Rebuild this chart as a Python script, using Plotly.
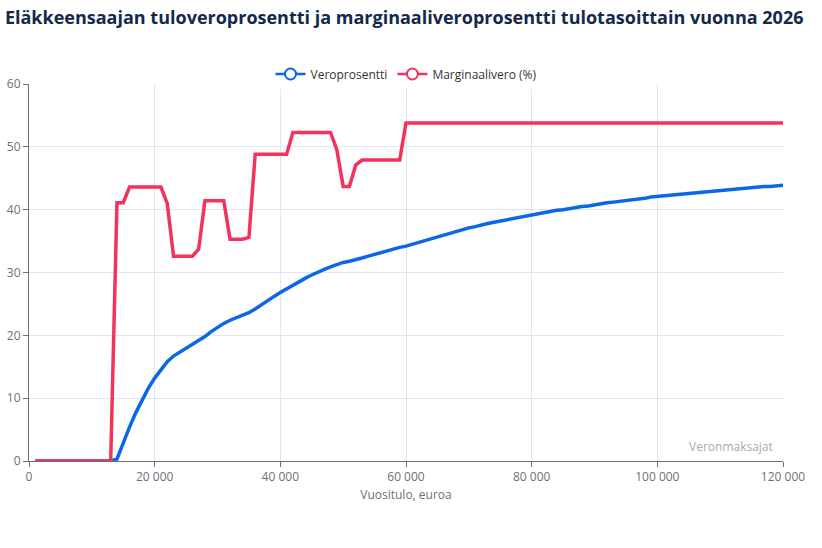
import plotly.graph_objects as go

# Vuositulo, euroa (1 000 - 120 000)
tulot = list(range(1000, 121000, 1000))

veroprosentti = [
    0, 0, 0, 0, 0, 0, 0, 0, 0, 0,
    0, 0, 0, 0.3, 3.0, 5.4, 7.7, 9.8, 11.6, 13.2,
    14.6, 15.8, 16.7, 17.3, 17.9, 18.5, 19.1, 19.8, 20.6, 21.3,
    21.9, 22.4, 22.8, 23.2, 23.6, 24.2, 24.9, 25.6, 26.2, 26.8,
    27.4, 28.0, 28.6, 29.1, 29.6, 30.1, 30.5, 30.9, 31.3, 31.6,
    31.8, 32.0, 32.3, 32.6, 32.9, 33.1, 33.4, 33.7, 34.0, 34.2,
    34.5, 34.8, 35.1, 35.4, 35.7, 36.0, 36.3, 36.5, 36.8, 37.1,
    37.3, 37.6, 37.8, 38.0, 38.2, 38.4, 38.6, 38.8, 39.0, 39.2,
    39.4, 39.5, 39.7, 39.9, 40.0, 40.2, 40.3, 40.5, 40.6, 40.8,
    40.9, 41.1, 41.2, 41.3, 41.5, 41.6, 41.7, 41.8, 42.0, 42.1,
    42.2, 42.3, 42.4, 42.5, 42.6, 42.7, 42.8, 42.9, 43.0, 43.1,
    43.2, 43.3, 43.3, 43.4, 43.5, 43.6, 43.7, 43.7, 43.8, 43.9,
]

marginaalivero = [
    0, 0, 0, 0, 0, 0, 0, 0, 0, 0,
    0, 0, 0, 41.1, 41.1, 43.6, 43.6, 43.6, 43.6, 43.6,
    43.6, 41.0, 32.6, 32.6, 32.6, 32.6, 33.7, 41.4, 41.4, 41.4,
    41.4, 35.3, 35.3, 35.3, 35.6, 48.8, 48.8, 48.8, 48.8, 48.8,
    48.8, 52.3, 52.3, 52.3, 52.3, 52.3, 52.3, 52.3, 49.5, 43.7,
    43.7, 47.1, 47.9, 47.9, 47.9, 47.9, 47.9, 47.9, 47.9, 53.8,
    53.8, 53.8, 53.8, 53.8, 53.8, 53.8, 53.8, 53.8, 53.8, 53.8,
    53.8, 53.8, 53.8, 53.8, 53.8, 53.8, 53.8, 53.8, 53.8, 53.8,
    53.8, 53.8, 53.8, 53.8, 53.8, 53.8, 53.8, 53.8, 53.8, 53.8,
    53.8, 53.8, 53.8, 53.8, 53.8, 53.8, 53.8, 53.8, 53.8, 53.8,
    53.8, 53.8, 53.8, 53.8, 53.8, 53.8, 53.8, 53.8, 53.8, 53.8,
    53.8, 53.8, 53.8, 53.8, 53.8, 53.8, 53.8, 53.8, 53.8, 53.8,
]

x_ticks = [0, 20000, 40000, 60000, 80000, 100000, 120000]
x_labels = ["0", "20 000", "40 000", "60 000", "80 000", "100 000", "120 000"]

sarjat = [
    ("Veroprosentti", veroprosentti, "#0b66e8"),
    ("Marginaalivero (%)", marginaalivero, "#f2335b"),
]

fig = go.Figure()
for nimi, arvot, vari in sarjat:
    fig.add_trace(go.Scatter(
        x=tulot, y=arvot, name=nimi, mode="lines",
        line=dict(color=vari, width=3.5),
        showlegend=False, legendgroup=nimi,
    ))
    # legend icon like the original (line with hollow circle)
    fig.add_trace(go.Scatter(
        x=[None], y=[None], name=nimi, mode="lines+markers",
        line=dict(color=vari, width=2.5),
        marker=dict(symbol="circle", size=11, color="white",
                    line=dict(color=vari, width=2)),
        legendgroup=nimi,
    ))

fig.update_layout(
    width=822, height=548,
    margin=dict(l=29, r=39, t=84, b=87),
    paper_bgcolor="white", plot_bgcolor="white",
    font=dict(family="Open Sans, sans-serif", size=12, color="#6e7079"),
    title=dict(
        text="<b>Eläkkeensaajan tuloveroprosentti ja marginaaliveroprosentti tulotasoittain vuonna 2026</b>",
        x=0.006, xanchor="left", y=1 - 18 / 548, yanchor="middle",
        font=dict(family="Open Sans, sans-serif", size=18, color="#13294b"),
    ),
    legend=dict(
        orientation="h", x=0.5, xanchor="center", y=1 + 10 / 377, yanchor="middle",
        font=dict(size=12, color="#333333"), itemwidth=30,
    ),
    annotations=[dict(
        text="Veronmaksajat", xref="paper", yref="paper",
        x=0.989, y=15 / 377, xanchor="right", yanchor="middle",
        showarrow=False, font=dict(size=12, color="#aaaaaa"),
    )],
)

fig.update_xaxes(
    range=[0, 120000], tickvals=x_ticks, ticktext=x_labels,
    showgrid=True, gridcolor="#e0e6f1", zeroline=False,
    showline=True, linecolor="#6e7079", linewidth=1,
    ticks="outside", ticklen=5, tickcolor="#6e7079",
    title=dict(text="Vuositulo, euroa", font=dict(size=12, color="#6e7079"), standoff=6),
    automargin=False,
)
fig.update_yaxes(
    range=[0, 60], dtick=10,
    showgrid=True, gridcolor="#e0e6f1", zeroline=False,
    showline=True, linecolor="#6e7079", linewidth=1,
    ticks="outside", ticklen=5, tickcolor="#6e7079",
    automargin=False,
)

# page body has a default 8px margin, remove it so the figure sits at (0, 0)
fig.write_html("out.html", config={"displayModeBar": False},
               post_script="document.body.style.margin='0';")
